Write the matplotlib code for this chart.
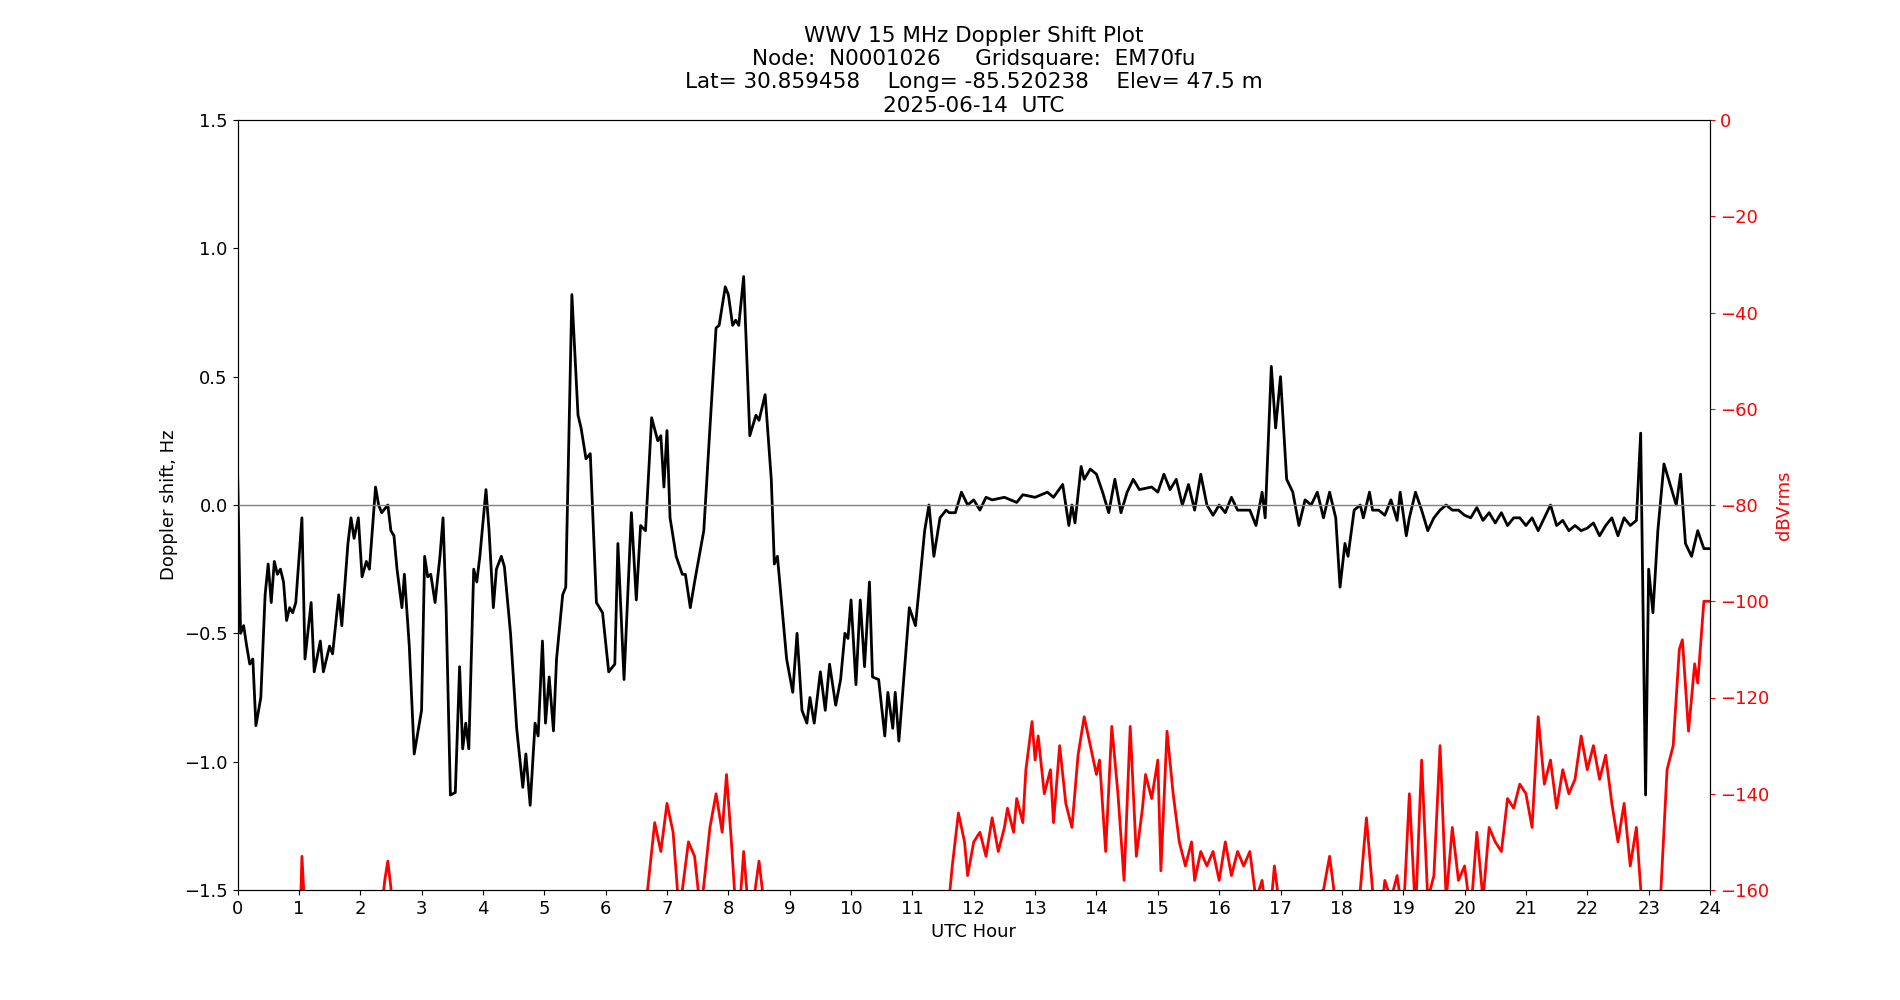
import matplotlib
matplotlib.use("Agg")
import matplotlib.pyplot as plt

dop_hours = [0.0, 0.05, 0.1, 0.15, 0.2, 0.25, 0.3, 0.38, 0.45, 0.5, 0.55, 0.6, 0.65, 0.7, 0.75, 0.8, 0.85, 0.9, 0.95, 1.05, 1.1, 1.2, 1.25, 1.35, 1.4, 1.5, 1.55, 1.65, 1.7, 1.8, 1.85, 1.9, 1.97, 2.03, 2.1, 2.15, 2.25, 2.3, 2.35, 2.45, 2.5, 2.55, 2.6, 2.68, 2.72, 2.8, 2.88, 2.95, 3.0, 3.05, 3.1, 3.15, 3.22, 3.3, 3.35, 3.4, 3.47, 3.55, 3.62, 3.67, 3.72, 3.77, 3.85, 3.9, 3.95, 4.05, 4.1, 4.17, 4.22, 4.3, 4.35, 4.45, 4.55, 4.65, 4.7, 4.77, 4.85, 4.9, 4.97, 5.02, 5.08, 5.15, 5.2, 5.3, 5.35, 5.45, 5.55, 5.6, 5.68, 5.75, 5.85, 5.95, 6.05, 6.15, 6.2, 6.3, 6.42, 6.5, 6.57, 6.65, 6.75, 6.85, 6.9, 6.95, 7.0, 7.05, 7.15, 7.25, 7.3, 7.38, 7.45, 7.6, 7.7, 7.8, 7.85, 7.95, 8.0, 8.07, 8.12, 8.17, 8.25, 8.35, 8.45, 8.5, 8.6, 8.7, 8.75, 8.8, 8.95, 9.05, 9.12, 9.2, 9.28, 9.33, 9.4, 9.5, 9.58, 9.65, 9.75, 9.83, 9.9, 9.95, 10.0, 10.08, 10.15, 10.22, 10.3, 10.35, 10.45, 10.55, 10.6, 10.68, 10.72, 10.78, 10.9, 10.95, 11.05, 11.12, 11.2, 11.27, 11.35, 11.45, 11.55, 11.6, 11.7, 11.8, 11.9, 12.0, 12.1, 12.2, 12.3, 12.5, 12.7, 12.8, 13.0, 13.2, 13.3, 13.45, 13.55, 13.6, 13.65, 13.75, 13.8, 13.9, 14.0, 14.1, 14.2, 14.3, 14.4, 14.5, 14.6, 14.7, 14.9, 15.0, 15.1, 15.2, 15.3, 15.4, 15.5, 15.6, 15.7, 15.8, 15.9, 16.0, 16.1, 16.2, 16.3, 16.5, 16.6, 16.7, 16.75, 16.85, 16.92, 17.0, 17.1, 17.2, 17.3, 17.4, 17.5, 17.6, 17.7, 17.8, 17.9, 17.97, 18.05, 18.1, 18.2, 18.3, 18.35, 18.45, 18.5, 18.6, 18.7, 18.8, 18.9, 18.95, 19.05, 19.1, 19.2, 19.3, 19.4, 19.5, 19.6, 19.7, 19.8, 19.9, 20.0, 20.1, 20.2, 20.3, 20.4, 20.5, 20.6, 20.7, 20.8, 20.9, 21.0, 21.1, 21.2, 21.3, 21.4, 21.5, 21.6, 21.7, 21.8, 21.9, 22.0, 22.1, 22.2, 22.3, 22.4, 22.5, 22.6, 22.7, 22.8, 22.87, 22.95, 23.0, 23.07, 23.15, 23.25, 23.35, 23.45, 23.52, 23.6, 23.7, 23.8, 23.9, 24.0]
dop_hz = [0.15, -0.5, -0.47, -0.55, -0.62, -0.6, -0.86, -0.75, -0.35, -0.23, -0.38, -0.22, -0.27, -0.25, -0.3, -0.45, -0.4, -0.42, -0.38, -0.05, -0.6, -0.38, -0.65, -0.53, -0.65, -0.55, -0.58, -0.35, -0.47, -0.15, -0.05, -0.13, -0.05, -0.28, -0.22, -0.25, 0.07, 0.0, -0.03, 0.0, -0.1, -0.12, -0.25, -0.4, -0.27, -0.55, -0.97, -0.87, -0.8, -0.2, -0.28, -0.27, -0.38, -0.2, -0.05, -0.4, -1.13, -1.12, -0.63, -0.95, -0.85, -0.95, -0.25, -0.3, -0.2, 0.06, -0.1, -0.4, -0.25, -0.2, -0.24, -0.5, -0.87, -1.1, -0.97, -1.17, -0.85, -0.9, -0.53, -0.85, -0.67, -0.88, -0.6, -0.35, -0.32, 0.82, 0.35, 0.3, 0.18, 0.2, -0.38, -0.42, -0.65, -0.62, -0.15, -0.68, -0.03, -0.37, -0.08, -0.1, 0.34, 0.25, 0.27, 0.07, 0.29, -0.05, -0.2, -0.27, -0.27, -0.4, -0.3, -0.1, 0.3, 0.69, 0.7, 0.85, 0.82, 0.7, 0.72, 0.7, 0.89, 0.27, 0.35, 0.33, 0.43, 0.1, -0.23, -0.2, -0.6, -0.73, -0.5, -0.8, -0.85, -0.75, -0.85, -0.65, -0.8, -0.62, -0.78, -0.68, -0.5, -0.52, -0.37, -0.7, -0.37, -0.63, -0.3, -0.67, -0.68, -0.9, -0.73, -0.87, -0.73, -0.92, -0.55, -0.4, -0.47, -0.3, -0.1, 0.0, -0.2, -0.05, -0.02, -0.03, -0.03, 0.05, 0.0, 0.02, -0.02, 0.03, 0.02, 0.03, 0.01, 0.04, 0.03, 0.05, 0.03, 0.08, -0.08, 0.0, -0.07, 0.15, 0.1, 0.14, 0.12, 0.05, -0.03, 0.1, -0.03, 0.05, 0.1, 0.06, 0.07, 0.05, 0.12, 0.06, 0.1, 0.0, 0.08, -0.02, 0.12, 0.0, -0.04, 0.0, -0.03, 0.03, -0.02, -0.02, -0.08, 0.05, -0.05, 0.54, 0.3, 0.5, 0.1, 0.05, -0.08, 0.02, 0.0, 0.05, -0.05, 0.05, -0.05, -0.32, -0.15, -0.2, -0.02, 0.0, -0.05, 0.05, -0.02, -0.02, -0.04, 0.02, -0.06, 0.05, -0.12, -0.05, 0.05, -0.02, -0.1, -0.05, -0.02, 0.0, -0.02, -0.02, -0.04, -0.05, -0.01, -0.06, -0.03, -0.07, -0.03, -0.08, -0.05, -0.05, -0.08, -0.05, -0.1, -0.05, 0.0, -0.08, -0.06, -0.1, -0.08, -0.1, -0.09, -0.07, -0.12, -0.08, -0.05, -0.12, -0.05, -0.08, -0.06, 0.28, -1.13, -0.25, -0.42, -0.1, 0.16, 0.08, 0.0, 0.12, -0.15, -0.2, -0.1, -0.17, -0.17]

pwr_hours = [0.0, 1.0, 1.05, 1.1, 2.3, 2.4, 2.45, 2.55, 6.6, 6.75, 6.8, 6.9, 7.0, 7.1, 7.2, 7.35, 7.45, 7.55, 7.7, 7.8, 7.9, 7.97, 8.05, 8.15, 8.25, 8.35, 8.5, 8.6, 11.5, 11.65, 11.75, 11.85, 11.9, 12.0, 12.1, 12.2, 12.3, 12.4, 12.5, 12.55, 12.65, 12.7, 12.8, 12.85, 12.95, 13.0, 13.05, 13.15, 13.25, 13.3, 13.4, 13.5, 13.6, 13.7, 13.8, 13.9, 14.0, 14.05, 14.15, 14.25, 14.35, 14.45, 14.55, 14.65, 14.75, 14.8, 14.9, 15.0, 15.05, 15.15, 15.25, 15.35, 15.45, 15.55, 15.6, 15.7, 15.8, 15.9, 16.0, 16.1, 16.2, 16.3, 16.4, 16.5, 16.6, 16.7, 16.8, 16.9, 17.0, 17.7, 17.8, 17.95, 18.3, 18.4, 18.5, 18.6, 18.7, 18.8, 18.9, 19.0, 19.1, 19.2, 19.3, 19.4, 19.5, 19.6, 19.7, 19.8, 19.9, 20.0, 20.1, 20.2, 20.3, 20.4, 20.5, 20.6, 20.7, 20.8, 20.9, 21.0, 21.1, 21.2, 21.3, 21.4, 21.5, 21.6, 21.7, 21.8, 21.9, 22.0, 22.1, 22.2, 22.3, 22.4, 22.5, 22.6, 22.7, 22.8, 22.9, 23.0, 23.2, 23.3, 23.4, 23.5, 23.55, 23.65, 23.75, 23.8, 23.9, 24.0]
pwr_db = [-175, -175, -153, -165, -170, -158, -154, -165, -170, -152, -146, -152, -142, -148, -165, -150, -153, -165, -147, -140, -148, -136, -150, -170, -152, -168, -154, -165, -175, -155, -144, -150, -157, -150, -148, -153, -145, -152, -147, -143, -148, -141, -146, -135, -125, -133, -128, -140, -135, -146, -130, -142, -147, -132, -124, -130, -136, -133, -152, -126, -140, -158, -126, -153, -143, -136, -141, -133, -156, -127, -140, -150, -155, -150, -158, -152, -155, -152, -158, -150, -157, -152, -155, -152, -162, -158, -170, -155, -165, -160, -153, -168, -160, -145, -160, -170, -158, -162, -157, -166, -140, -165, -133, -162, -157, -130, -162, -147, -158, -155, -165, -148, -162, -147, -150, -152, -141, -143, -138, -140, -147, -124, -138, -133, -143, -135, -140, -137, -128, -135, -130, -137, -132, -142, -150, -142, -155, -147, -165, -175, -160, -135, -130, -110, -108, -127, -113, -117, -100, -100]

fig, ax = plt.subplots(figsize=(19, 10), dpi=100)
fig.subplots_adjust(left=0.125, right=0.9, top=0.88, bottom=0.11)
ax.plot(dop_hours, dop_hz, color='black', linewidth=2)
ax.axhline(0, color='gray', linewidth=1)
ax.set_xlim(0, 24)
ax.set_ylim(-1.5, 1.5)
ax.set_xticks(range(25))
ax.set_xlabel("UTC Hour", fontsize=13)
ax.set_ylabel("Doppler shift, Hz", fontsize=13)
ax.tick_params(labelsize=13)
ax.set_title("WWV 15 MHz Doppler Shift Plot\nNode:  N0001026     Gridsquare:  EM70fu\n"
             "Lat= 30.859458    Long= -85.520238    Elev= 47.5 m\n2025-06-14  UTC", fontsize=15.5)

ax2 = ax.twinx()
ax2.plot(pwr_hours, pwr_db, color='red', linewidth=2)
ax2.set_ylim(-160, 0)
ax2.set_ylabel("dBVrms", color='red', fontsize=13)
ax2.tick_params(axis='y', colors='red', labelsize=13)

fig.savefig("out.png")
